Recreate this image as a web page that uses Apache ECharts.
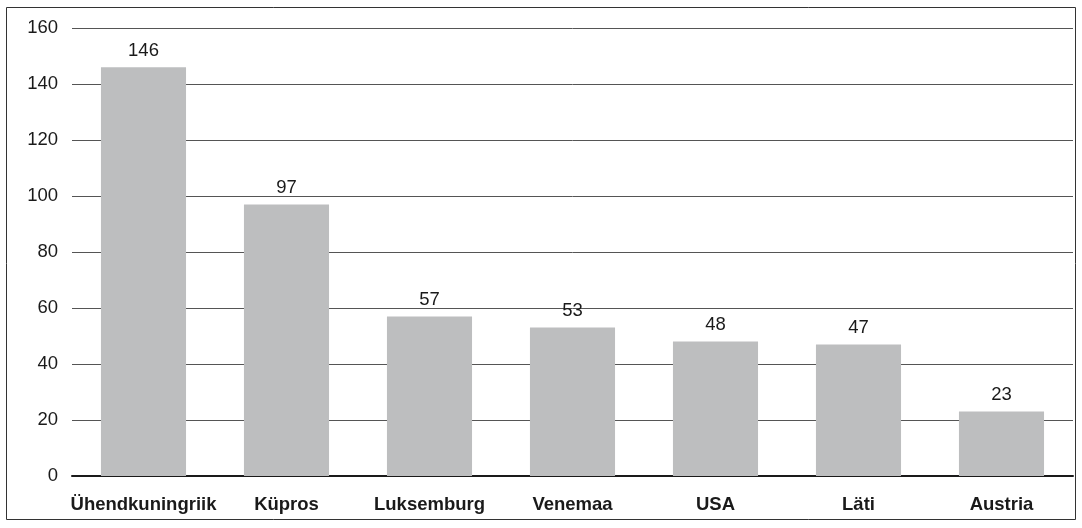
<!DOCTYPE html>
<html>
<head>
<meta charset="utf-8">
<script src="https://cdn.jsdelivr.net/npm/echarts@6/dist/echarts.min.js"></script>
<style>
  html, body { margin: 0; padding: 0; background: #fff; }
  #chart { width: 1082px; height: 528px; }
</style>
</head>
<body>
<div id="chart"></div>
<script>
// andmed
const countries = ['Ühendkuningriik', 'Küpros', 'Luksemburg', 'Venemaa', 'USA', 'Läti', 'Austria']
const values = [146, 97, 57, 53, 48, 47, 23]

const chart = echarts.init(document.getElementById('chart'))

const option = {
  animation: false,
  backgroundColor: '#fff',
  graphic: [
    {
      type: 'rect',
      shape: { x: 6.5, y: 7.5, width: 1069, height: 512 },
      style: { fill: 'none', stroke: '#333', lineWidth: 1 },
      silent: true,
    },
  ],
  grid: {
    left: 72,
    right: 9,
    top: 28,
    bottom: 52,
    containLabel: false,
  },
  xAxis: {
    type: 'category',
    data: countries,
    axisTick: { show: false },
    axisLine: { lineStyle: { color: '#1a1a1a', width: 2 } },
    axisLabel: {
      color: '#1a1a1a',
      fontFamily: 'Liberation Sans, Arial, sans-serif',
      fontWeight: 'bold',
      fontSize: 18.5,
      margin: 19,
      interval: 0,
    },
  },
  yAxis: {
    type: 'value',
    min: 0,
    max: 160,
    interval: 20,
    axisLine: { show: false },
    axisTick: { show: false },
    axisLabel: {
      color: '#1a1a1a',
      fontFamily: 'Liberation Sans, Arial, sans-serif',
      fontSize: 18.5,
      margin: 14,
    },
    splitLine: { lineStyle: { color: '#555', width: 1 } },
  },
  series: [
    {
      type: 'bar',
      data: values,
      barWidth: '59.5%',
      itemStyle: { color: '#bdbebf' },
      label: {
        show: true,
        position: 'top',
        distance: 7,
        color: '#1a1a1a',
        fontFamily: 'Liberation Sans, Arial, sans-serif',
        fontSize: 18.5,
      },
    },
  ],
}

chart.setOption(option)
</script>
</body>
</html>
